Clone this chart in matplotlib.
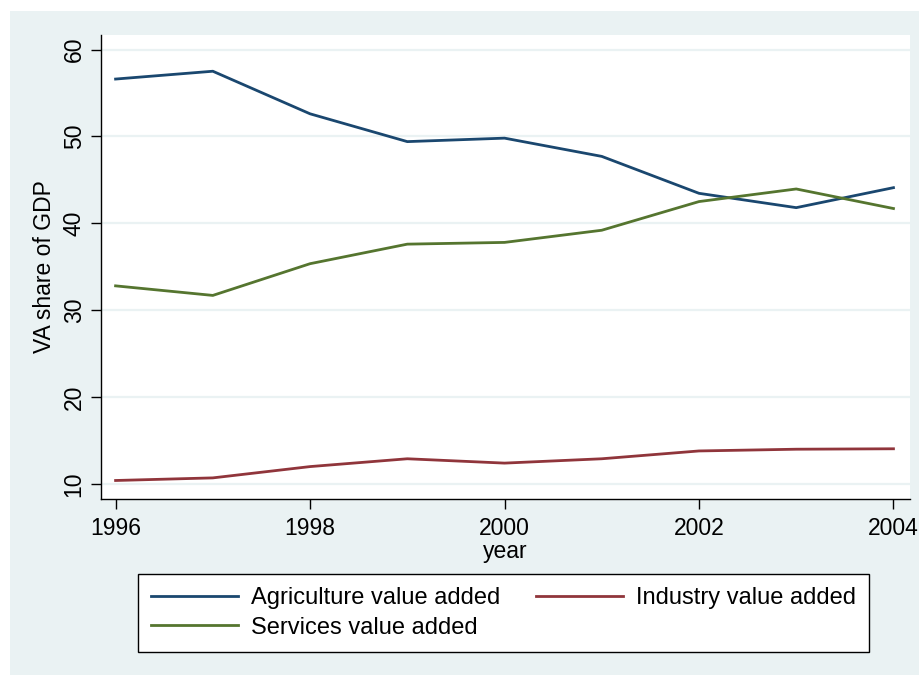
import matplotlib
matplotlib.use("Agg")
import matplotlib.pyplot as plt
from matplotlib.patches import Rectangle

years = [1996, 1997, 1998, 1999, 2000, 2001, 2002, 2003, 2004]
agriculture = [56.6, 57.5, 52.6, 49.4, 49.8, 47.7, 43.45, 41.8, 44.1]
industry = [10.4, 10.7, 12.0, 12.9, 12.4, 12.9, 13.8, 14.0, 14.05]
services = [32.8, 31.7, 35.35, 37.6, 37.8, 39.2, 42.5, 43.95, 41.7]
series_labels = ["Agriculture value added", "Industry value added", "Services value added"]
xticks = [1996, 1998, 2000, 2002, 2004]
yticks = [10, 20, 30, 40, 50, 60]

plt.rcParams['font.family'] = ['Liberation Sans', 'DejaVu Sans']

W, H = 919, 675
fig = plt.figure(figsize=(W/100, H/100), dpi=100)
fig.patch.set_facecolor('white')
bg = '#EAF2F3'
fig.add_artist(Rectangle((10/W, 0), 1 - 10/W, (H - 11)/H, transform=fig.transFigure,
                         facecolor=bg, edgecolor='none', zorder=-10))

ax = fig.add_axes([101/W, (H-499)/H, (910-101)/W, (499-35)/H])
ax.set_facecolor('white')

c_agr, c_ind, c_srv = '#1A476F', '#90353B', '#55752F'
l1, = ax.plot(years, agriculture, color=c_agr, lw=2.0, label=series_labels[0], zorder=3)
l2, = ax.plot(years, industry, color=c_ind, lw=2.0, label=series_labels[1], zorder=3)
l3, = ax.plot(years, services, color=c_srv, lw=2.0, label=series_labels[2], zorder=3)

ax.set_xlim(1995.85, 2004.17)
ax.set_ylim(8.27, 61.67)
ax.set_xticks(xticks)
ax.set_yticks(yticks)
ax.set_xticklabels([str(t) for t in xticks], fontsize=16.5)
ax.set_yticklabels([str(t) for t in yticks], fontsize=16.5, rotation=90, va='center')
ax.tick_params(axis='both', length=7, width=1, color='black', pad=4)
ax.tick_params(axis='x', pad=6)
ax.grid(axis='y', color=bg, lw=1.6, zorder=1)
ax.set_axisbelow(True)
for s in ['top', 'right']:
    ax.spines[s].set_visible(False)
for s in ['left', 'bottom']:
    ax.spines[s].set_linewidth(1.0)
    ax.spines[s].set_color('black')

ax.set_ylabel("VA share of GDP", fontsize=16.5, labelpad=5)
ax.set_xlabel("year", fontsize=16.5, labelpad=0)

leg = fig.legend([l1, l3, l2], [series_labels[0], series_labels[2], series_labels[1]],
                 ncol=2, loc='center', bbox_to_anchor=((140+867)/2/W, 1 - 613/H),
                 fontsize=17, frameon=True, fancybox=False, edgecolor='black',
                 facecolor='white', framealpha=1,
                 handlelength=3.7, handletextpad=0.55, columnspacing=1.5,
                 labelspacing=0.3, borderpad=0.55)
leg.get_frame().set_linewidth(1.0)

fig.savefig("out.png", dpi=100, facecolor=fig.get_facecolor())
